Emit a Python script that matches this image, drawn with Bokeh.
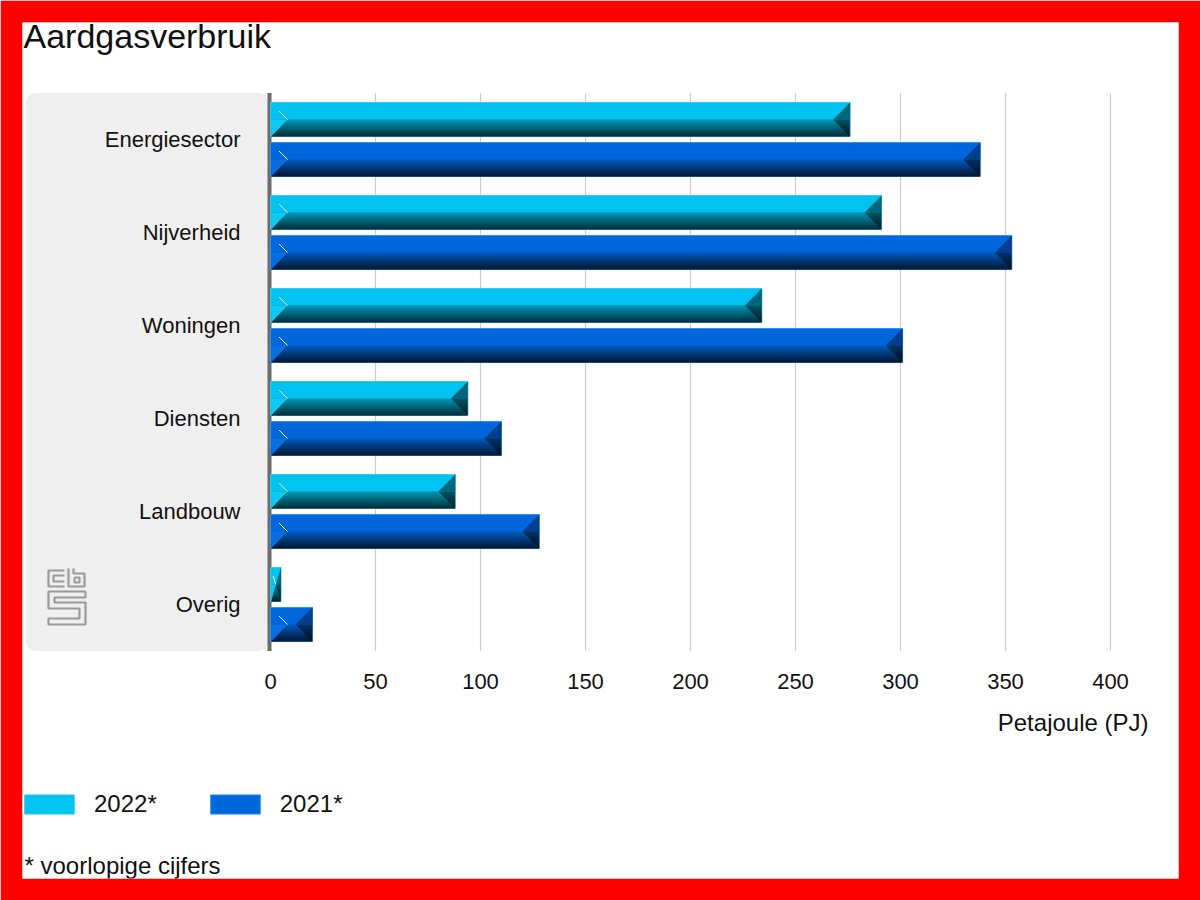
import numpy as np
from bokeh.plotting import figure
from bokeh.models import Range1d, Legend, LegendItem
from bokeh.core.properties import value
from bokeh.embed import file_html
from bokeh.resources import INLINE

# ---------------- data ----------------
categories = ["Energiesector", "Nijverheid", "Woningen", "Diensten", "Landbouw", "Overig"]
series_names = ["2022*", "2021*"]
values_2022 = [276, 291, 234, 94, 88, 5]
values_2021 = [338, 353, 301, 110, 128, 20]
x_ticks = [0, 50, 100, 150, 200, 250, 300, 350, 400]
x_tick_labels = ["0", "50", "100", "150", "200", "250", "300", "350", "400"]
title_text = "Aardgasverbruik"
x_label = "Petajoule (PJ)"
footnote = "* voorlopige cijfers"

# ---------------- layout helpers (screen px -> data units) ----------------
W, H, B = 1200, 900, 22
X0PX, PXU, Y0PX, BAND = 270.0, 2.1, 139.0, 93.0


def X(px):
    return (px - X0PX) / PXU


def Y(py):
    return (py - Y0PX) / BAND


FONT = value("Liberation Sans")

p = figure(width=W, height=H, output_backend="svg", toolbar_location=None,
           x_range=Range1d(X(B), X(W - B)), y_range=Range1d(Y(H - B), Y(B)),
           x_axis_type=None, y_axis_type=None,
           min_border=0, min_border_left=B, min_border_right=B,
           min_border_top=B, min_border_bottom=B)
p.border_fill_color = "#ff0000"
p.background_fill_color = "#ffffff"
p.outline_line_color = None

# grey label panel
p.quad(left=X(25), right=X(268), top=-0.5, bottom=5.5, fill_color="#efefef",
       line_color=None, border_radius=10)

# grid lines
p.segment(x0=x_ticks[1:], y0=-0.5, x1=x_ticks[1:], y1=5.5, line_color="#cccccc", line_width=1.2)
# axis line
p.segment(x0=[X(269)], y0=[-0.5], x1=[X(269)], y1=[5.5], line_color="#6b6b6b", line_width=4)

# ---------------- bars ----------------
h = 34.0 / BAND
off = 20.0 / BAND
styles = [
    dict(vals=values_2022, dy=-off, top="#00c3ef", mid=(0, 136, 162), edge="#3cc8ea",
         rdark="#00667e", lbevel="#12c8f2"),
    dict(vals=values_2021, dy=off, top="#0066db", mid=(0, 86, 180), edge="#2a96f0",
         rdark="#003f8e", lbevel="#0a6ee0"),
]

legend_renderers = []
for st in styles:
    vals = np.array(st["vals"], dtype=float)
    ys = np.arange(len(categories)) + st["dy"]
    base = p.hbar(y=ys, left=0, right=vals, height=h, fill_color=st["top"],
                  line_color=st["edge"], line_width=1)
    legend_renderers.append(base)
    # lower half gradient to black
    n = 17
    r, g, bcol = st["mid"]
    for k in range(n):
        t = k / (n - 1)
        c = "#%02x%02x%02x" % (int(r * (1 - t)), int(g * (1 - t)), int(bcol * (1 - t)))
        yc = ys + (h / 2) * (k + 0.5) / n
        p.hbar(y=yc, left=0.35, right=vals - 0.2, height=(h / 2) / n * 1.15,
               fill_color=c, line_color=None)
    # bevels
    bev = np.minimum(17.0, vals * PXU / 2) / PXU
    lx, ly, rux, ruy, rlx, rly = [], [], [], [], [], []
    hx0, hy0, hx1, hy1 = [], [], [], []
    for v, yc, bb in zip(vals, ys, bev):
        lx.append([0.3, bb, 0.3])
        ly.append([yc, yc, yc + h / 2])
        rux.append([v - bb, v, v])
        ruy.append([yc, yc - h / 2, yc])
        rlx.append([v - bb, v, v])
        rly.append([yc, yc, yc + h / 2])
        hx0.append(bb * 0.5)
        hy0.append(yc - h / 4)
        hx1.append(bb)
        hy1.append(yc)
    p.patches(xs=lx, ys=ly, fill_color=st["lbevel"], line_color=None)
    p.patches(xs=rux, ys=ruy, fill_color=st["rdark"], line_color=None)
    p.patches(xs=rlx, ys=rly, fill_color="#000000", fill_alpha=0.45, line_color=None)
    p.segment(x0=hx0, y0=hy0, x1=hx1, y1=hy1, line_color="white", line_width=1)

# ---------------- texts ----------------
p.text(x=[X(240)] * len(categories), y=list(range(len(categories))), text=categories,
       text_font=FONT, text_font_size=value("22px"), text_align="right",
       text_baseline="middle", text_color="#111111")
p.text(x=x_ticks, y=[Y(681)] * len(x_ticks), text=x_tick_labels,
       text_font=FONT, text_font_size=value("22px"), text_align="center",
       text_baseline="middle", text_color="#111111")
p.text(x=[X(1148)], y=[Y(722)], text=[x_label], text_font=FONT,
       text_font_size=value("24px"), text_align="right", text_baseline="middle",
       text_color="#111111")
p.text(x=[X(23)], y=[Y(35)], text=[title_text], text_font=FONT,
       text_font_size=value("34px"), text_align="left", text_baseline="middle",
       text_color="#111111")
p.text(x=[X(24)], y=[Y(865)], text=[footnote], text_font=FONT,
       text_font_size=value("24px"), text_align="left", text_baseline="middle",
       text_color="#111111")

# ---------------- CBS logo (decorative) ----------------
logo = [
    [(64, 570), (48, 570), (48, 586), (64, 586)],
    [(64, 575), (53, 575), (53, 581), (64, 581)],
    [(68, 568), (68, 586), (84, 586), (84, 573), (73, 573), (73, 568)],
    [(74, 577), (79, 577), (79, 582), (74, 582), (74, 577)],
    [(85, 591), (48, 591), (48, 608), (79, 608), (79, 618), (48, 618), (48, 624),
     (85, 624), (85, 602), (54, 602), (54, 597), (85, 597), (85, 591)],
]
p.multi_line(xs=[[X(a) for a, _ in path] for path in logo],
             ys=[[Y(b) for _, b in path] for path in logo],
             line_color="#9a9a9a", line_width=2.2)

# ---------------- legend ----------------
legend = Legend(items=[LegendItem(label=series_names[0], renderers=[legend_renderers[0]]),
                       LegendItem(label=series_names[1], renderers=[legend_renderers[1]])],
                orientation="horizontal", location=(-4, 60), glyph_width=62, glyph_height=24,
                label_standoff=14, spacing=47, padding=0, margin=0,
                border_line_color=None, background_fill_alpha=0,
                label_text_font="Liberation Sans", label_text_font_size="24px",
                label_text_color="#111111")
p.add_layout(legend)

open("out.html", "w").write(file_html(p, INLINE))
